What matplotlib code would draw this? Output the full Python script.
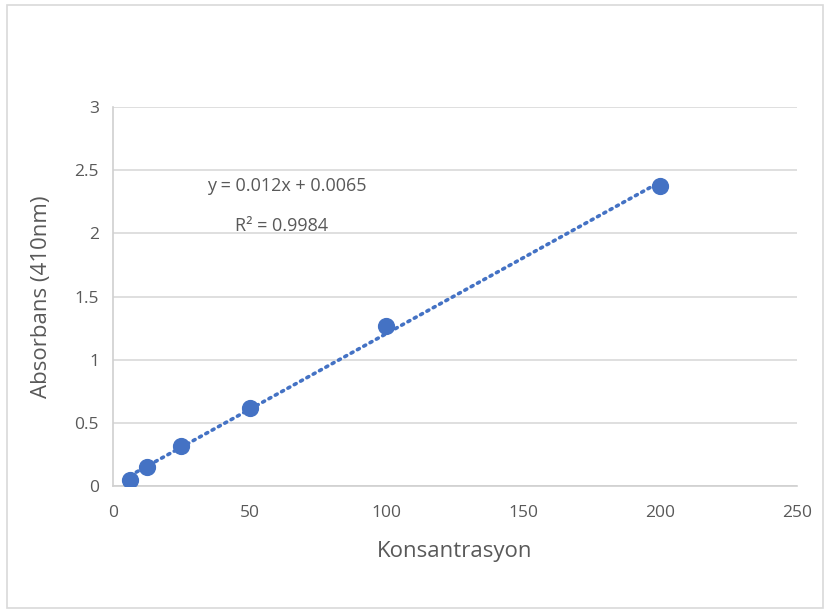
import matplotlib.pyplot as plt
import numpy as np
from matplotlib.patches import Rectangle

konsantrasyon = [6.25, 12.5, 25, 50, 100, 200]
absorbans = [0.047, 0.15, 0.315, 0.617, 1.268, 2.378]
slope = 0.012
intercept = 0.0065
r2 = 0.9984
x_ticks = [0, 50, 100, 150, 200, 250]
y_ticks = [0, 0.5, 1, 1.5, 2, 2.5, 3]
y_ticklabels = ['0', '0.5', '1', '1.5', '2', '2.5', '3']

plt.rcParams['font.family'] = ['Open Sans', 'DejaVu Sans']
grey = '#595959'
blue = '#4472C4'

fig = plt.figure(figsize=(8.3, 6.12), dpi=100)
fig.set_facecolor('white')
# light frame around the whole chart area
fig.patches.append(Rectangle((0.009, 0.007), 0.982, 0.985, transform=fig.transFigure,
                             fill=False, edgecolor='#d9d9d9', linewidth=1.2))

ax = fig.add_axes([0.136, 0.206, 0.824, 0.619])
ax.set_xlim(0, 250)
ax.set_ylim(0, 3)

# linear trendline
tx = np.array([konsantrasyon[0], konsantrasyon[-1]])
ax.plot(tx, slope * tx + intercept, color=blue, linestyle=(0, (0.6, 1.4)),
        linewidth=2.6, dash_capstyle='round', zorder=2)
ax.scatter(konsantrasyon, absorbans, s=130, color=blue, zorder=3)

ax.set_xticks(x_ticks)
ax.set_yticks(y_ticks)
ax.set_yticklabels(y_ticklabels)
ax.tick_params(length=0, labelsize=12.5, labelcolor=grey, pad=10)
ax.tick_params(axis='x', pad=14)
ax.grid(axis='y', color='#d9d9d9', linewidth=1.2)
ax.set_axisbelow(True)
for s in ['top', 'right']:
    ax.spines[s].set_visible(False)
for s in ['left', 'bottom']:
    ax.spines[s].set_color('#d0d0d0')
    ax.spines[s].set_linewidth(1.2)

ax.set_xlabel('Konsantrasyon', fontsize=16, color=grey, labelpad=14)
ax.set_ylabel('Absorbans (410nm)', fontsize=16, color=grey, labelpad=16)

ax.text(0.137, 0.793, f'y = {slope}x + {intercept}', transform=ax.transAxes,
        fontsize=13, color=grey, va='center')
ax.text(0.179, 0.687, f'R² = {r2}', transform=ax.transAxes,
        fontsize=13, color=grey, va='center')

fig.savefig('out.png', dpi=100)
